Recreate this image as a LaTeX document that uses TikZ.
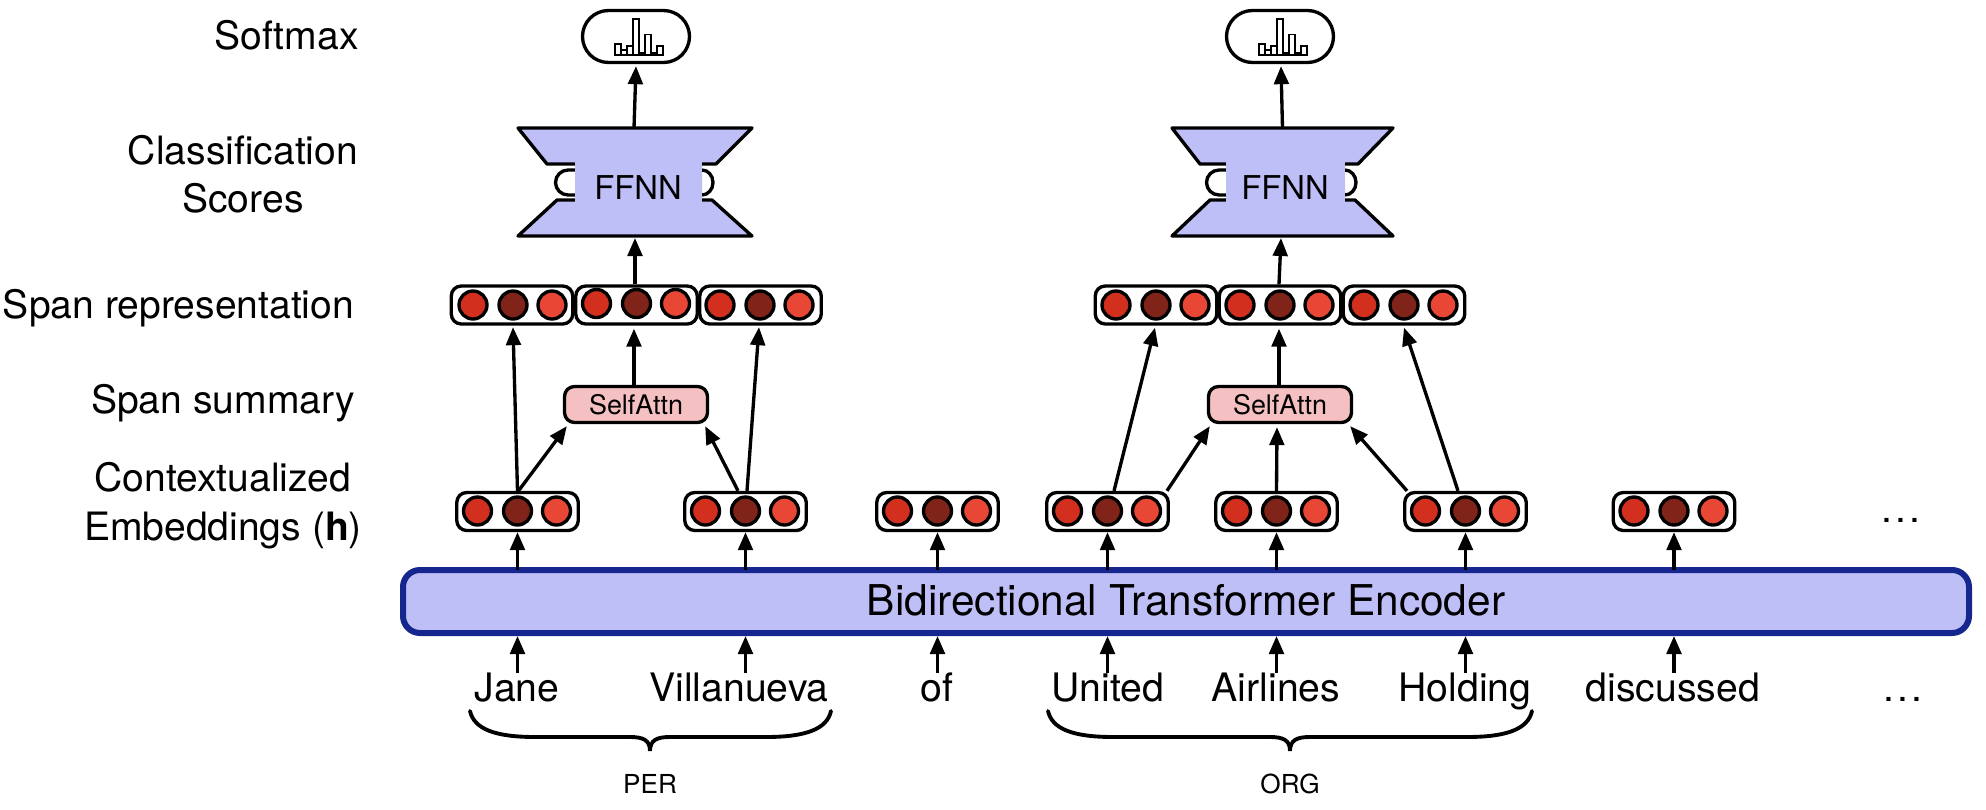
\documentclass[tikz,border=0pt]{standalone}
\usepackage{fontspec}
\setmainfont{TeX Gyre Heros}
\usetikzlibrary{arrows.meta,calc}
\definecolor{ffblue}{HTML}{BFBFF8}
\definecolor{encline}{HTML}{15278F}
\definecolor{attnfill}{HTML}{F5C0C2}
\definecolor{reda}{HTML}{D22F1E}
\definecolor{redb}{HTML}{80241A}
\definecolor{redc}{HTML}{E94735}
\newdimen\pxu \pxu=0.75pt
\newcommand\pxfont[2]{\fontsize{#1pt}{#2pt}\selectfont}
\tikzset{
  lw/.style={line width=2.5pt},
  arr/.style={lw,-{Triangle[length=13.5pt,width=11pt]}},
  vecbox/.style={draw=black,lw,fill=white,rounded corners=10\pxu,minimum width=121.5\pxu,minimum height=38\pxu,inner sep=0pt},
  spot/.style={circle,draw=black,lw,minimum size=28\pxu,inner sep=0pt},
  attn/.style={draw=black,lw,fill=attnfill,rounded corners=10\pxu,minimum width=143\pxu,minimum height=36\pxu,inner sep=0pt},
  pill/.style={draw=black,lw,fill=white,rounded corners=26\pxu,minimum width=107\pxu,minimum height=52\pxu,inner sep=0pt},
  ffshape/.style={inner sep=0pt,outer sep=0pt,minimum height=108\pxu},
  enc/.style={draw=encline,line width=4.5pt,fill=ffblue,rounded corners=17\pxu,minimum width=1566\pxu,minimum height=63\pxu,inner sep=0pt},
  word/.style={anchor=base,inner sep=0pt,outer sep=0pt,text height=28\pxu,font=\pxfont{29.4}{36}},
  side/.style={anchor=base,inner sep=0pt,outer sep=0pt,align=center,font=\pxfont{29.3}{36.7}},
  tiny/.style={anchor=base,inner sep=0pt,outer sep=0pt,font=\pxfont{19.6}{22}},
  ffnnlab/.style={anchor=base,inner sep=0pt,outer sep=0pt,font=\pxfont{24.6}{28}},
  attnlab/.style={anchor=base,inner sep=0pt,outer sep=0pt,font=\pxfont{20.2}{24}},
  brace/.style={line width=2.9pt,line cap=round},
  bar/.style={draw=black,line width=1.2pt,fill=white}
}
% #1 name, #2 box x, #3 box y, #4 circles x, #5 circles y
\newcommand\vecrow[5]{%
  \node[vecbox] (#1) at (#2,#3) {};
  \node[spot,fill=reda] (#1a) at (#4-40,#5) {};
  \node[spot,fill=redb] (#1b) at (#4,#5) {};
  \node[spot,fill=redc] (#1c) at (#4+39,#5) {};
}
% #1 x of the first bar
\newcommand\histo[1]{%
  \draw[bar] (#1,55) rectangle (#1+6,43.7);
  \draw[bar] (#1+6,55) rectangle (#1+12,50);
  \draw[bar] (#1+12,55) rectangle (#1+18,46);
  \draw[bar] (#1+18,55) rectangle (#1+24,18.7);
  \draw[bar] (#1+24,55) rectangle (#1+30,52.7);
  \draw[bar] (#1+30,55) rectangle (#1+36,34.3);
  \draw[bar] (#1+36,55) rectangle (#1+42,52.7);
  \draw[bar] (#1+42,55) rectangle (#1+48,46);
}
% #1 name; x: #2 outer left, #3 top-inner left, #4 bottom-inner left, #5 rect left, #6 rect right, #7 top-inner right, #8 bottom-inner right, #9 outer right
\newcommand\ffnnshape[9]{%
  \fill[ffblue] (#2,128) -- (#9,128) -- (#7,164) -- (#6,164) -- (#6,200) -- (#8,200) -- (#9,236) -- (#2,236) -- (#4,200) -- (#5,200) -- (#5,164) -- (#3,164) -- cycle;
  \draw[lw,line join=round] (#5,164) -- (#3,164) -- (#2,128) -- (#9,128) -- (#7,164) -- (#6,164);
  \draw[lw,line join=round] (#5,200) -- (#4,200) -- (#2,236) -- (#9,236) -- (#8,200) -- (#6,200);
  \draw[lw] (#5,170) -- (#5-7,170) arc[start angle=90,end angle=270,x radius=12.5,y radius=-12.5] -- (#5,195);
  \draw[lw] (#6,170) arc[start angle=90,end angle=-90,x radius=11,y radius=-12.5];
  \node[ffshape,minimum width=234\pxu] (#1) at ({(#2+#9)/2},182) {};
}
\newcommand\wdots{.\kern0.09em.\kern0.09em.}
\begin{document}
\begin{tikzpicture}[x=0.75pt,y=-0.75pt]
\useasboundingbox (0,0) rectangle (1986,810);

% left labels
\node[side] (lsoft) at (286.5,50) {Softmax};
\node[side,font=\pxfont{29.3}{36}] (lclass) at (243,212) {Classification\\Scores};
\node[side] (lspan) at (178.5,318) {Span representation};
\node[side] (lsum) at (223,413) {Span summary};
\node[side] (lctx) at (223,540) {Contextualized\\Embeddings (\textbf{h})};

% encoder
\node[enc] (enc) at (1186,601.5) {};
\node[side,font=\pxfont{31.8}{36}] (enclab) at (1186,615) {Bidirectional Transformer Encoder};

% softmax pills
\node[pill] (pa) at (636,36.5) {};
\histo{615}
\node[pill] (pb) at (1280,36.5) {};
\histo{1258.7}

% FFNN blocks
\ffnnshape{ffa}{518}{547}{557}{575}{702}{716}{712}{752}
\fill[ffblue] (575,162) rectangle (702,202);
\node[ffnnlab] (fflaba) at (638,199) {FFNN};
\ffnnshape{ffb}{1172}{1200}{1210}{1226}{1345}{1358}{1355}{1393}
\fill[ffblue] (1226,162) rectangle (1345,202);
\node[ffnnlab] (fflabb) at (1285,199) {FFNN};

% span representations
\vecrow{spa}{512}{305}{513}{305}
\vecrow{spb}{636.5}{305}{636.5}{303.5}
\vecrow{spc}{760.5}{305}{760}{305}
\vecrow{spd}{1156}{305}{1156}{305}
\vecrow{spe}{1280}{305}{1280}{305}
\vecrow{spf}{1404}{305}{1404}{305}

% self attention
\node[attn] (sa) at (636,404.5) {};
\node[attnlab] (salab) at (636,414) {SelfAttn};
\node[attn] (sb) at (1280,404.5) {};
\node[attnlab] (sblab) at (1280,414) {SelfAttn};

% contextualized embeddings
\vecrow{ha}{517.5}{511.5}{517.5}{511}
\vecrow{hb}{745.5}{511.5}{745.5}{511}
\vecrow{hc}{937.5}{511.5}{937.5}{511}
\vecrow{hd}{1107.5}{511.5}{1107.5}{511}
\vecrow{he}{1276.5}{511.5}{1276.5}{511}
\vecrow{hf}{1465.5}{511.5}{1465.5}{511}
\vecrow{hg}{1674}{511.5}{1674}{511}
\node[word] (dotsa) at (1901,522) {\wdots};

% words
\node[word] (wa) at (517,701) {Jane};
\node[word] (wb) at (739,701) {Villanueva};
\node[word] (wc) at (937,701) {of};
\node[word] (wd) at (1108,701) {United};
\node[word] (we) at (1276,701) {Airlines};
\node[word] (wf) at (1465,701) {Holding};
\node[word] (wg) at (1673,701) {discussed};
\node[word] (dotsb) at (1903,701) {\wdots};

% braces
\draw[brace] (470,711) .. controls (474,729) and (495,737) .. (535,737) -- (630,737) .. controls (643,737) and (650,740) .. (650,751) .. controls (650,740) and (657,737) .. (670,737) -- (766,737) .. controls (806,737) and (827,729) .. (831,711);
\node[tiny] (per) at (650,793) {PER};
\draw[brace] (1048,711) .. controls (1052,729) and (1073,737) .. (1113,737) -- (1270,737) .. controls (1283,737) and (1290,740) .. (1290,751) .. controls (1290,740) and (1297,737) .. (1310,737) -- (1467,737) .. controls (1507,737) and (1528,729) .. (1532,711);
\node[tiny] (org) at (1290,793) {ORG};

% encoder to embeddings and words to encoder
\foreach \h/\w in {ha/wa,hb/wb,hc/wc,hd/wd,he/we,hf/wf,hg/wg}{
  \draw[arr] ($(enc.north -| \h.south)+(0,3)$) -- (\h.south);
  \draw[arr] (\w.north -| \h.south) -- (enc.south -| \h.south);
}

% first group
\draw[arr] (ha.north) -- ($(spa.south)+(1,1.5)$);
\draw[arr] ($(ha.north)+(1,0)$) -- ($(sa.south west)+(4,2)$);
\draw[arr] ($(sa.north)+(-2,0)$) -- ($(spb.south)+(-2.5,3)$);
\draw[arr] ($(hb.north)+(-7.5,0)$) -- ($(sa.south east)+(-4,2)$);
\draw[arr] ($(hb.north)+(1.5,0)$) -- ($(spc.south)+(-1.5,1.5)$);
\draw[arr] (spb.north -| ffa.south) -- ($(ffa.south)+(0,2)$);
\draw[arr] ($(ffa.north)+(-1,0)$) -- ($(pa.south)+(0,2)$);

% second group
\draw[arr] ($(hd.north)+(6.5,0)$) -- ($(spd.south)+(-1,2)$);
\draw[arr] ($(hd.north)+(59.5,0)$) -- ($(sb.south west)+(3,2)$);
\draw[arr] (he.north) -- ($(sb.south)+(-3,3)$);
\draw[arr] ($(sb.north)+(-1,0)$) -- ($(spe.south)+(-1,3)$);
\draw[arr] ($(hf.north)+(-58.5,0)$) -- ($(sb.south east)+(-3,2)$);
\draw[arr] ($(hf.north)+(-7.5,0)$) -- ($(spf.south)+(0,2)$);
\draw[arr] ($(spe.north)+(-1,0)$) -- ($(ffb.south)+(-1.5,2)$);
\draw[arr] (ffb.north) -- ($(pb.south)+(1,2)$);
\end{tikzpicture}
\end{document}
